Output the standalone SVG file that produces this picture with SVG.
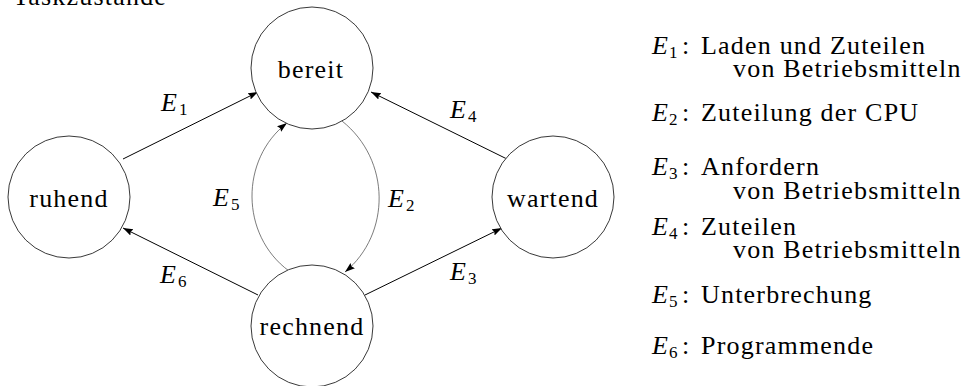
<svg xmlns="http://www.w3.org/2000/svg" width="967" height="386" viewBox="0 0 967 386">
<style>
  text { font-family: 'Liberation Serif', 'DejaVu Serif', serif; font-size: 26px; fill: #000; }
  .m { font-style: italic; }
  .sub { font-size: 17px; font-style: normal; }
  .ls { letter-spacing: 1.2px; }
  .node { fill: #fff; stroke: #222; stroke-width: 0.9; }
  .edge { fill: none; stroke: #000; stroke-width: 1; marker-end: url(#arr); }
  .bend { fill: none; stroke: #444; stroke-width: 0.7; marker-end: url(#arr); }
</style>
<defs>
  <marker id="arr" markerUnits="userSpaceOnUse" markerWidth="10" markerHeight="8" refX="10" refY="3.5" orient="auto">
    <path d="M0,0 L10,3.5 L0,7 L1.5,3.5 z" fill="#000"/>
  </marker>
</defs>
<rect width="967" height="386" fill="#fff"/>
<text x="13" y="5" class="ls">Taskzustände</text>

<g id="connectors">
  <path id="e1" class="edge" d="M123,159 L258,92"/>
  <path id="e4" class="edge" d="M507,159 L371,92"/>
  <path id="e3" class="edge" d="M365,295 L502,228"/>
  <path id="e6" class="edge" d="M258,295 L123,228"/>
  <path id="e5" class="bend" d="M289,271 C240,235 240,159 287,123"/>
  <path id="e2" class="bend" d="M342,121 C391,160 391,234 345,272"/>
  <text x="161" y="111"><tspan class="m">E</tspan><tspan class="sub" x="179" dy="3.5">1</tspan></text>
  <text x="450" y="118"><tspan class="m">E</tspan><tspan class="sub" x="468" dy="3.5">4</tspan></text>
  <text x="388" y="207"><tspan class="m">E</tspan><tspan class="sub" x="406" dy="3.5">2</tspan></text>
  <text x="213" y="206"><tspan class="m">E</tspan><tspan class="sub" x="231" dy="3.5">5</tspan></text>
  <text x="450" y="280"><tspan class="m">E</tspan><tspan class="sub" x="468" dy="3.5">3</tspan></text>
  <text x="160" y="283"><tspan class="m">E</tspan><tspan class="sub" x="178" dy="3.5">6</tspan></text>
</g>

<g id="bereit">
  <circle class="node" cx="312" cy="68" r="61"/>
  <text x="311" y="78" text-anchor="middle" class="ls">bereit</text>
</g>
<g id="ruhend">
  <circle class="node" cx="69" cy="197" r="61"/>
  <text x="69" y="207" text-anchor="middle" class="ls">ruhend</text>
</g>
<g id="wartend">
  <circle class="node" cx="553" cy="197" r="61"/>
  <text x="553" y="207" text-anchor="middle" class="ls">wartend</text>
</g>
<g id="rechnend">
  <circle class="node" cx="312" cy="326" r="61"/>
  <text x="312" y="335" text-anchor="middle" class="ls">rechnend</text>
</g>

<g id="legend">
  <text x="652" y="54"><tspan class="m">E</tspan><tspan class="sub" x="669" dy="3.5">1</tspan><tspan x="682" dy="-3.5">:</tspan></text>
  <text x="701" y="54" class="ls">Laden und Zuteilen</text>
  <text x="733" y="77" class="ls">von Betriebsmitteln</text>

  <text x="652" y="121"><tspan class="m">E</tspan><tspan class="sub" x="669" dy="3.5">2</tspan><tspan x="682" dy="-3.5">:</tspan></text>
  <text x="701" y="121" class="ls">Zuteilung der CPU</text>

  <text x="652" y="175"><tspan class="m">E</tspan><tspan class="sub" x="669" dy="3.5">3</tspan><tspan x="682" dy="-3.5">:</tspan></text>
  <text x="701" y="175" class="ls">Anfordern</text>
  <text x="733" y="199" class="ls">von Betriebsmitteln</text>

  <text x="652" y="235"><tspan class="m">E</tspan><tspan class="sub" x="669" dy="3.5">4</tspan><tspan x="682" dy="-3.5">:</tspan></text>
  <text x="701" y="235" class="ls">Zuteilen</text>
  <text x="733" y="258" class="ls">von Betriebsmitteln</text>

  <text x="652" y="303"><tspan class="m">E</tspan><tspan class="sub" x="669" dy="3.5">5</tspan><tspan x="682" dy="-3.5">:</tspan></text>
  <text x="701" y="303" class="ls">Unterbrechung</text>

  <text x="652" y="354"><tspan class="m">E</tspan><tspan class="sub" x="669" dy="3.5">6</tspan><tspan x="682" dy="-3.5">:</tspan></text>
  <text x="701" y="354" class="ls">Programmende</text>
</g>
</svg>
